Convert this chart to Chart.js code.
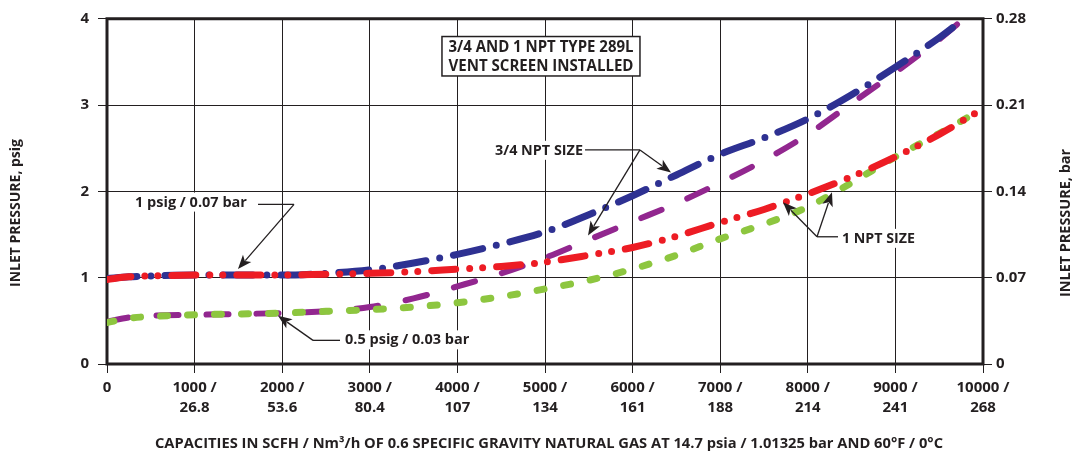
<!DOCTYPE html>
<html>
<head>
<meta charset="utf-8">
<script src="https://cdn.jsdelivr.net/npm/chart.js@4.4.0/dist/chart.umd.min.js"></script>
<style>
  html, body { margin: 0; padding: 0; background: #fff; }
  canvas { display: block; }
</style>
</head>
<body>
<canvas id="chart" width="1079" height="457"></canvas>
<script>
// flow in SCFH, pressure in psig
const flow34 = [0, 250, 500, 1000, 1500, 2000, 2500, 3000, 3500, 4000, 4500, 5000, 5500, 6000, 6500, 7000, 7500, 8000, 8500, 9000, 9500, 9770];
const npt34At1psig = [0.99, 1.01, 1.02, 1.03, 1.03, 1.03, 1.05, 1.09, 1.17, 1.27, 1.39, 1.53, 1.73, 1.95, 2.19, 2.43, 2.62, 2.84, 3.12, 3.44, 3.78, 3.99];
const npt34At05psig = [0.49, 0.54, 0.56, 0.57, 0.58, 0.59, 0.61, 0.66, 0.76, 0.90, 1.05, 1.23, 1.44, 1.65, 1.86, 2.10, 2.36, 2.66, 3.02, 3.38, 3.76, 3.99];

const flow1 = [0, 250, 500, 1000, 1500, 2000, 2500, 3000, 3500, 4000, 4500, 5000, 5500, 6000, 6500, 7000, 7500, 8000, 8500, 9000, 9500, 10000];
const npt1At1psig = [0.98, 1.01, 1.02, 1.03, 1.03, 1.03, 1.04, 1.05, 1.07, 1.10, 1.13, 1.18, 1.26, 1.35, 1.48, 1.64, 1.79, 1.97, 2.17, 2.40, 2.66, 2.96];
const npt1At05psig = [0.48, 0.53, 0.55, 0.57, 0.58, 0.59, 0.61, 0.63, 0.66, 0.71, 0.78, 0.87, 0.97, 1.10, 1.26, 1.45, 1.62, 1.82, 2.10, 2.40, 2.67, 2.96];

const xTickScfh = ['0', '1000 /', '2000 /', '3000 /', '4000 /', '5000 /', '6000 /', '7000 /', '8000 /', '9000 /', '10000 /'];
const xTickNm3h = ['', '26.8', '53.6', '80.4', '107', '134', '161', '188', '214', '241', '268'];
const yTickPsig = ['0', '1', '2', '3', '4'];
const yTickBar = ['0', '0.07', '0.14', '0.21', '0.28'];

const INK = '#231f20';
const FONT = '"Open Sans", Lato, sans-serif';

// callouts, in data units (SCFH, psig)
const callouts = [
  { text: '1 psig / 0.07 bar', x: 320, y: 1.87, lead: [1724, 2135, 1.85], from: [2135, 1.85], tips: [[1495, 1.10]] },
  { text: '0.5 psig / 0.03 bar', x: 2717, y: 0.274, lead: [2352, 2660, 0.274], from: [2352, 0.274], tips: [[1952, 0.56]] },
  { text: '3/4 NPT SIZE', x: 4429, y: 2.47, lead: [5457, 6084, 2.48], from: [6084, 2.48], tips: [[6438, 2.22], [5491, 1.49]] },
  { text: '1 NPT SIZE', x: 8390, y: 1.45, lead: [8105, 8345, 1.474], from: [8105, 1.474], tips: [[7717, 1.874], [8276, 1.989]] }
];
const calloutWidths = [113, 130, 88, 73];
const boxTitle = ['3/4 AND 1 NPT TYPE 289L', 'VENT SCREEN INSTALLED'];

function toPoints(xs, ys) {
  return xs.map((x, i) => ({ x: x, y: ys[i] }));
}

function arrow(ctx, x1, y1, x2, y2) {
  const ang = Math.atan2(y2 - y1, x2 - x1);
  const len = 14, half = 5.5;
  ctx.beginPath();
  ctx.moveTo(x1, y1);
  ctx.lineTo(x2 - Math.cos(ang) * len * 0.8, y2 - Math.sin(ang) * len * 0.8);
  ctx.stroke();
  ctx.beginPath();
  ctx.moveTo(x2, y2);
  ctx.lineTo(x2 - Math.cos(ang) * len - Math.sin(ang) * half, y2 - Math.sin(ang) * len + Math.cos(ang) * half);
  ctx.lineTo(x2 - Math.cos(ang) * len * 0.75, y2 - Math.sin(ang) * len * 0.75);
  ctx.lineTo(x2 - Math.cos(ang) * len + Math.sin(ang) * half, y2 - Math.sin(ang) * len - Math.cos(ang) * half);
  ctx.closePath();
  ctx.fill();
}

const framePlugin = {
  id: 'frame',
  beforeDatasetsDraw(chart) {
    const { ctx, chartArea: a } = chart;
    ctx.save();
    ctx.strokeStyle = INK;
    ctx.lineWidth = 3;
    ctx.strokeRect(a.left, a.top, a.right - a.left, a.bottom - a.top);
    ctx.restore();
  },
  afterDatasetsDraw(chart) {
    const { ctx } = chart;
    const px = v => chart.scales.x.getPixelForValue(v);
    const py = v => chart.scales.y.getPixelForValue(v);
    ctx.save();
    ctx.fillStyle = INK;
    ctx.strokeStyle = INK;
    ctx.lineWidth = 1.3;
    ctx.font = 'bold 14.5px ' + FONT;
    ctx.textBaseline = 'middle';
    ctx.textAlign = 'left';

    callouts.forEach((c, k) => {
      const tx = px(c.x), ty = py(c.y);
      const w = calloutWidths[k];
      ctx.fillStyle = '#fff';
      ctx.fillRect(tx - 9, ty - 10, w + 18, 19);
      ctx.fillStyle = INK;
      ctx.fillText(c.text, tx, ty, w);
      ctx.beginPath();
      ctx.moveTo(px(c.lead[0]), py(c.lead[2]));
      ctx.lineTo(px(c.lead[1]), py(c.lead[2]));
      ctx.stroke();
      c.tips.forEach(t => arrow(ctx, px(c.from[0]), py(c.from[1]), px(t[0]), py(t[1])));
    });

    // boxed note
    const cx = px(4954), top = py(3.794), bottom = py(3.337);
    ctx.fillStyle = '#fff';
    ctx.fillRect(cx - 99, top, 198, bottom - top);
    ctx.lineWidth = 1.5;
    ctx.strokeRect(cx - 99, top, 198, bottom - top);
    ctx.fillStyle = INK;
    ctx.font = 'bold 16px ' + FONT;
    ctx.textAlign = 'center';
    ctx.fillText(boxTitle[0], cx, py(3.67), 185);
    ctx.fillText(boxTitle[1], cx, py(3.45), 185);
    ctx.restore();
  },
  afterDraw(chart) {
    const { ctx } = chart;
    ctx.save();
    ctx.fillStyle = INK;
    ctx.font = 'bold 15px ' + FONT;
    ctx.textAlign = 'center';
    ctx.textBaseline = 'middle';
    ctx.fillText('CAPACITIES IN SCFH / Nm³/h OF 0.6 SPECIFIC GRAVITY NATURAL GAS AT 14.7 psia / 1.01325 bar AND 60°F / 0°C', 549, 444, 788);

    ctx.save();
    ctx.translate(16, 213);
    ctx.rotate(-Math.PI / 2);
    ctx.fillText('INLET PRESSURE, psig', 0, 0, 148);
    ctx.restore();

    ctx.save();
    ctx.translate(1066, 223);
    ctx.rotate(-Math.PI / 2);
    ctx.fillText('INLET PRESSURE, bar', 0, 0, 148);
    ctx.restore();
    ctx.restore();
  }
};

const tickFont = { family: FONT, size: 15, weight: 'bold', lineHeight: 1.3 };

new Chart(document.getElementById('chart'), {
  type: 'line',
  data: {
    datasets: [
      {
        label: '1 NPT, 1 psig',
        data: toPoints(flow1, npt1At1psig),
        borderColor: '#ed1c24',
        borderWidth: 7,
        borderDash: [24, 14, 0, 13, 0, 14],
        order: 0
      },
      {
        label: '3/4 NPT, 1 psig',
        data: toPoints(flow34, npt34At1psig),
        borderColor: '#2e3192',
        borderWidth: 7,
        borderDash: [30, 14, 0, 14],
        order: 1
      },
      {
        label: '1 NPT, 0.5 psig',
        data: toPoints(flow1, npt1At05psig),
        borderColor: '#8dc63f',
        borderWidth: 7,
        borderDash: [7, 20],
        order: 2
      },
      {
        label: '3/4 NPT, 0.5 psig',
        data: toPoints(flow34, npt34At05psig),
        borderColor: '#92278f',
        borderWidth: 6,
        borderDash: [22, 28],
        order: 3
      }
    ]
  },
  options: {
    responsive: false,
    devicePixelRatio: 1,
    animation: false,
    layout: { padding: { top: 14, left: 0, right: 0, bottom: 0 } },
    elements: {
      point: { radius: 0 },
      line: { fill: false, cubicInterpolationMode: 'monotone', borderCapStyle: 'round', borderJoinStyle: 'round' }
    },
    plugins: {
      legend: { display: false },
      tooltip: { enabled: false }
    },
    scales: {
      x: {
        type: 'linear',
        min: 0,
        max: 10000,
        ticks: {
          stepSize: 1000,
          autoSkip: false,
          maxRotation: 0,
          padding: 5,
          color: INK,
          font: tickFont,
          callback: v => {
            const i = Math.round(v / 1000);
            return xTickNm3h[i] ? [xTickScfh[i], xTickNm3h[i]] : xTickScfh[i];
          }
        },
        grid: { color: INK, lineWidth: 1, tickLength: 9 },
        border: { display: false },
        afterFit: s => { s.height = 93; }
      },
      y: {
        position: 'left',
        min: 0,
        max: 4,
        ticks: { stepSize: 1, padding: 9, color: INK, font: tickFont, callback: (v, i) => yTickPsig[i] },
        grid: { color: INK, lineWidth: 1, tickLength: 9 },
        border: { display: false },
        afterFit: s => { s.width = 107; }
      },
      y2: {
        position: 'right',
        min: 0,
        max: 4,
        ticks: { stepSize: 1, padding: 4, color: INK, font: tickFont, callback: (v, i) => yTickBar[i] },
        grid: { color: INK, lineWidth: 1, tickLength: 9, drawOnChartArea: false },
        border: { display: false },
        afterFit: s => { s.width = 96; }
      }
    }
  },
  plugins: [framePlugin]
});
</script>
</body>
</html>
